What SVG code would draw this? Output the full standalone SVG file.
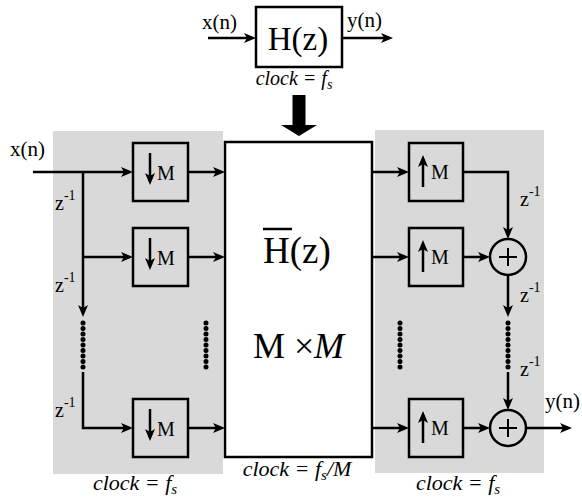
<svg xmlns="http://www.w3.org/2000/svg" width="582" height="497" viewBox="0 0 582 497" font-family="Liberation Serif">
<defs>
<style>
text{font-family:'Liberation Serif','Times New Roman',serif}
.i{font-style:italic}
.ln{stroke:#000;stroke-width:2.5;fill:none}
.box{stroke:#000;stroke-width:2.5;fill:none}
.panel{fill:#d9d9d9}
.dots{stroke:#000;stroke-width:5;stroke-linecap:round;stroke-dasharray:0 5.5;fill:none}
.arr{marker-end:url(#ah)}
</style>
<marker id="ah" markerUnits="userSpaceOnUse" markerWidth="14" markerHeight="12" refX="8" refY="5" orient="auto">
<path d="M0,0 L12,5 L0,10 L3,5 z" fill="#000"/>
</marker>
</defs>

<rect class="panel" x="53" y="131" width="170" height="343"/>
<rect class="panel" x="375" y="130" width="169" height="343"/>

<g id="connectors">
<line class="ln arr" x1="208" y1="38" x2="252" y2="38"/>
<line class="ln arr" x1="342" y1="38" x2="389" y2="38"/>
<polygon points="292.5,95 305.5,95 305.5,125 317,125 299,136 281,125 292.5,125" fill="#000"/>
<line class="ln arr" x1="33" y1="172" x2="129" y2="172"/>
<line class="ln arr" x1="83" y1="172" x2="83" y2="313"/>
<line class="dots" x1="83" y1="323" x2="83" y2="372"/>
<polyline class="ln arr" points="83,372 83,428 129,428"/>
<line class="ln arr" x1="83" y1="257" x2="129" y2="257"/>
<line class="ln arr" x1="188" y1="172" x2="221" y2="172"/>
<line class="ln arr" x1="188" y1="257" x2="221" y2="257"/>
<line class="ln arr" x1="188" y1="428" x2="221" y2="428"/>
<line class="dots" x1="206" y1="323" x2="206" y2="372"/>
<line class="ln arr" x1="372" y1="172" x2="405" y2="172"/>
<line class="ln arr" x1="372" y1="257" x2="405" y2="257"/>
<line class="ln arr" x1="372" y1="428" x2="405" y2="428"/>
<line class="dots" x1="400" y1="323" x2="400" y2="372"/>
<polyline class="ln arr" points="463,172 508,172 508,235"/>
<line class="ln arr" x1="463" y1="257" x2="486" y2="257"/>
<line class="ln arr" x1="508" y1="275" x2="508" y2="313"/>
<line class="dots" x1="508" y1="323" x2="508" y2="372"/>
<line class="ln arr" x1="508" y1="372" x2="508" y2="406"/>
<line class="ln arr" x1="463" y1="428" x2="486" y2="428"/>
<line class="ln arr" x1="526" y1="428" x2="568" y2="428"/>
</g>

<g id="top-filter">
<rect class="box" x="256" y="7" width="86" height="60" fill="#fff"/>
<text x="298" y="50" font-size="33" text-anchor="middle">H(z)</text>
<text x="202" y="29" font-size="21">x(n)</text>
<text x="347" y="27" font-size="21">y(n)</text>
<text class="i" x="294" y="85" font-size="20" text-anchor="middle">clock = f<tspan font-size="14" dy="4">s</tspan></text>
</g>

<g id="input-label">
<text x="10" y="156" font-size="21">x(n)</text>
</g>

<g id="left-delays">
<text x="55" y="210" font-size="20">z<tspan font-size="14" dy="-10">-1</tspan></text>
<text x="55" y="292" font-size="20">z<tspan font-size="14" dy="-10">-1</tspan></text>
<text x="55" y="417" font-size="20">z<tspan font-size="14" dy="-10">-1</tspan></text>
</g>

<g id="down1">
<rect class="box" x="133" y="143" width="55" height="58"/>
<line class="ln arr" x1="150" y1="153" x2="150" y2="181"/>
<text x="157" y="180" font-size="20">M</text>
</g>
<g id="down2">
<rect class="box" x="133" y="228" width="55" height="58"/>
<line class="ln arr" x1="150" y1="238" x2="150" y2="266"/>
<text x="157" y="265" font-size="20">M</text>
</g>
<g id="down3">
<rect class="box" x="133" y="399" width="55" height="58"/>
<line class="ln arr" x1="150" y1="409" x2="150" y2="437"/>
<text x="157" y="436" font-size="20">M</text>
</g>

<g id="polyphase-matrix">
<rect class="box" x="225" y="142" width="147" height="315" fill="#fff"/>
<text x="263" y="263" font-size="37">H(z)</text>
<line x1="263" y1="229" x2="292" y2="229" stroke="#000" stroke-width="2.5"/>
<text x="253" y="358" font-size="36">M<tspan x="294">×</tspan><tspan x="314" font-style="italic">M</tspan></text>
</g>

<g id="up1">
<rect class="box" x="409" y="143" width="54" height="58"/>
<line class="ln arr" x1="423" y1="187" x2="423" y2="159"/>
<text x="431" y="179" font-size="20">M</text>
</g>
<g id="up2">
<rect class="box" x="409" y="228" width="54" height="58"/>
<line class="ln arr" x1="423" y1="272" x2="423" y2="244"/>
<text x="431" y="264" font-size="20">M</text>
</g>
<g id="up3">
<rect class="box" x="409" y="399" width="54" height="58"/>
<line class="ln arr" x1="423" y1="443" x2="423" y2="415"/>
<text x="431" y="435" font-size="20">M</text>
</g>

<g id="adder1">
<circle cx="508" cy="257" r="18" fill="none" stroke="#000" stroke-width="2.5"/>
<line x1="499" y1="257" x2="517" y2="257" stroke="#000" stroke-width="2"/>
<line x1="508" y1="248" x2="508" y2="266" stroke="#000" stroke-width="2"/>
</g>
<g id="adder2">
<circle cx="508" cy="428" r="18" fill="none" stroke="#000" stroke-width="2.5"/>
<line x1="499" y1="428" x2="517" y2="428" stroke="#000" stroke-width="2"/>
<line x1="508" y1="419" x2="508" y2="437" stroke="#000" stroke-width="2"/>
</g>

<g id="right-delays">
<text x="520" y="206" font-size="20">z<tspan font-size="14" dy="-10">-1</tspan></text>
<text x="520" y="302" font-size="20">z<tspan font-size="14" dy="-10">-1</tspan></text>
<text x="520" y="376" font-size="20">z<tspan font-size="14" dy="-10">-1</tspan></text>
</g>

<g id="output-label">
<text x="545" y="408" font-size="21">y(n)</text>
</g>

<g id="clock-labels">
<text class="i" x="135" y="490" font-size="22" text-anchor="middle">clock = f<tspan font-size="15" dy="4">s</tspan></text>
<text class="i" x="297" y="476" font-size="22" text-anchor="middle">clock = f<tspan font-size="15" dy="4">s</tspan><tspan dy="-4">/M</tspan></text>
<text class="i" x="458" y="490" font-size="22" text-anchor="middle">clock = f<tspan font-size="15" dy="4">s</tspan></text>
</g>
</svg>
